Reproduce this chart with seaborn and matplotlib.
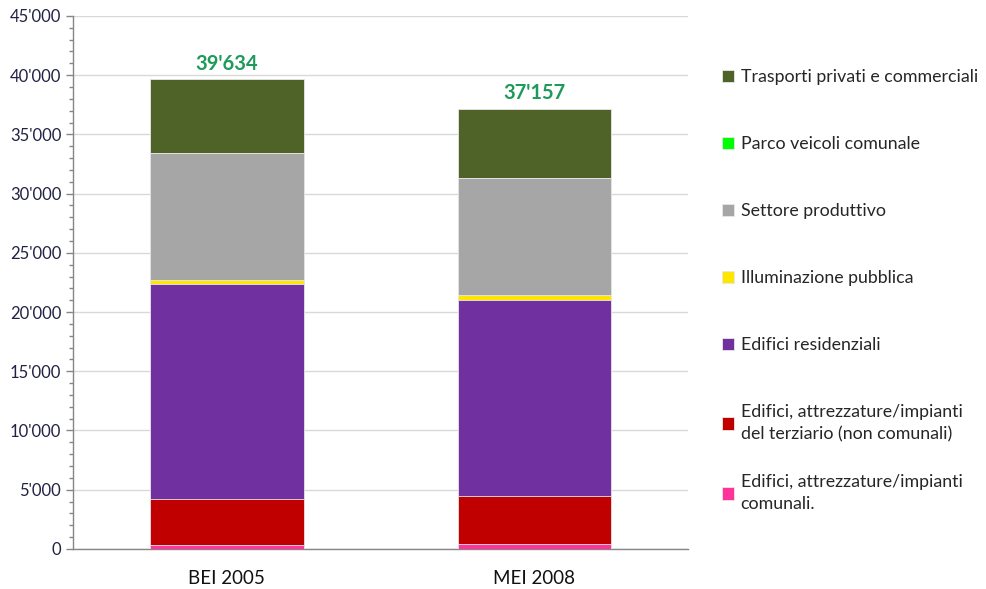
import matplotlib
matplotlib.use("Agg")
import matplotlib.pyplot as plt
import matplotlib.ticker as mticker
import numpy as np
import seaborn as sns

periodi = ["BEI 2005", "MEI 2008"]
totali = [39634, 37157]

# layers from the bottom of the stack to the top
categorie = [
    "Edifici, attrezzature/impianti\ncomunali.",
    "Edifici, attrezzature/impianti\ndel terziario (non comunali)",
    "Edifici residenziali",
    "Illuminazione pubblica",
    "Settore produttivo",
    "Parco veicoli comunale",
    "Trasporti privati e commerciali",
]
comunali = [300, 400]
terziario = [3950, 4100]
residenziali = [18100, 16550]
illuminazione = [360, 360]
produttivo = [10680, 9870]
parco_veicoli = [50, 30]
trasporti = [6194, 5847]

colori = ["#FF3399", "#C00000", "#7030A0", "#FFE600", "#A6A6A6", "#00FF00", "#4F6228"]

valori = [comunali, terziario, residenziali, illuminazione, produttivo, parco_veicoli, trasporti]
cumulati = np.cumsum(np.array(valori), axis=0)

sns.set_style("white")
plt.rcParams['font.family'] = ['Lato', 'DejaVu Sans']

fig = plt.figure(figsize=(9.86, 5.89), dpi=100)
ax = fig.add_axes([0.074, 0.068, 0.624, 0.905])

# draw cumulative bars from the top layer down so each covers the previous
for i in range(len(categorie) - 1, -1, -1):
    sns.barplot(x=periodi, y=cumulati[i], color=colori[i], width=0.5,
                edgecolor="#E8E8E8", linewidth=0.6, saturation=1,
                label=categorie[i], ax=ax, zorder=3)

for j, tot in enumerate(totali):
    ax.text(j, tot + 450, f"{tot:,}".replace(",", "'"), ha="center", va="bottom",
            fontsize=14.5, fontweight="bold", color="#1E9A5A")

ax.set_ylim(0, 45000)
ax.set_xlim(-0.5, 1.5)
ax.yaxis.set_major_locator(mticker.MultipleLocator(5000))
ax.yaxis.set_minor_locator(mticker.MultipleLocator(1000))
ax.yaxis.set_major_formatter(mticker.FuncFormatter(lambda v, p: f"{int(v):,}".replace(",", "'")))
ax.grid(axis="y", color="#D9D9D9", linewidth=1, zorder=0)
ax.set_axisbelow(True)

ax.xaxis.set_minor_locator(mticker.FixedLocator([-0.5, 0.5, 1.5]))
ax.tick_params(axis="x", which="major", length=0, pad=15, labelsize=13.5, labelcolor="#111111")
ax.tick_params(axis="x", which="minor", length=5, width=1, color="#868686", direction="out")
ax.tick_params(axis="y", which="major", length=5, width=1, color="#868686", labelsize=12,
               labelcolor="#222244", left=True)
ax.tick_params(axis="y", which="minor", length=3, width=1, color="#868686", left=True)

for s in ["top", "right"]:
    ax.spines[s].set_visible(False)
for s in ["left", "bottom"]:
    ax.spines[s].set_color("#868686")
    ax.spines[s].set_linewidth(1)

ax.set_xlabel("")
ax.set_ylabel("")

# legend: entries sit at a fixed pitch like in Excel, so the last
# two-line entry gets its own legend box
handles, labels = ax.get_legend_handles_labels()
leg_opts = dict(bbox_transform=fig.transFigure, frameon=False, fontsize=12.8,
                handlelength=0.7, handleheight=0.7, handletextpad=0.35,
                borderaxespad=0, loc="upper left")
leg1 = ax.legend(handles[:-1], labels[:-1], bbox_to_anchor=(0.725, 0.895),
                 labelspacing=2.87, **leg_opts)
for t in leg1.get_texts():
    t.set_linespacing(1.45)
ax.add_artist(leg1)
leg2 = ax.legend(handles[-1:], labels[-1:], bbox_to_anchor=(0.725, 0.207), **leg_opts)
for t in leg2.get_texts():
    t.set_linespacing(1.45)

fig.savefig("out.png", dpi=100)
